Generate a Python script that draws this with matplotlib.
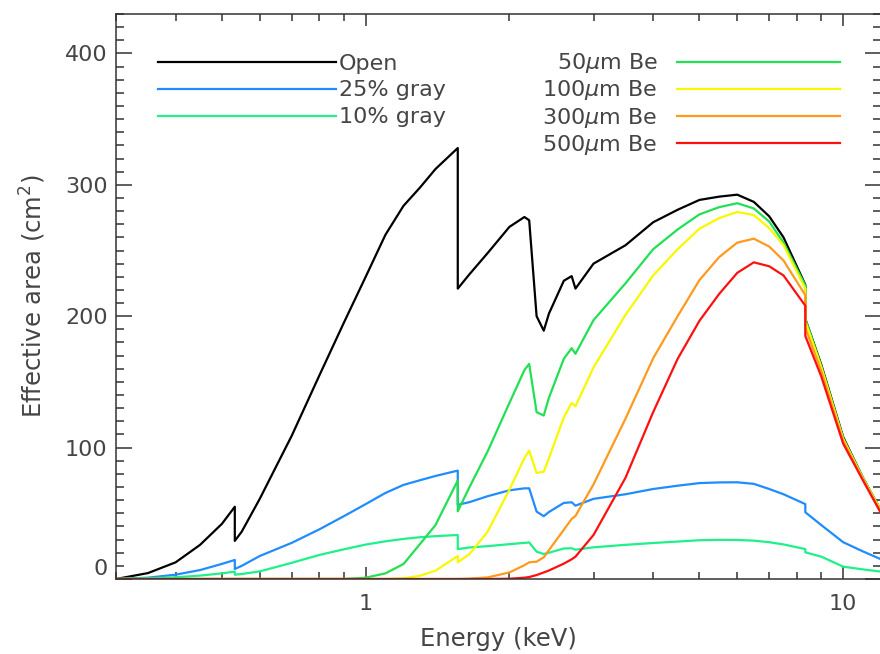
import matplotlib
matplotlib.use("Agg")
import matplotlib.pyplot as plt
from matplotlib.ticker import MultipleLocator, LogLocator, NullFormatter

# energy grid (keV); repeated entries are absorption edges (O-K, Al-K, Au-L)
energy = [0.30, 0.35, 0.40, 0.45, 0.50, 0.532, 0.532, 0.55, 0.60, 0.70,
          0.80, 0.90, 1.00, 1.10, 1.20, 1.30, 1.40, 1.559, 1.559, 1.65,
          1.80, 2.00, 2.15, 2.20, 2.28, 2.36, 2.42, 2.60, 2.70, 2.75,
          3.00, 3.50, 4.00, 4.50, 5.00, 5.50, 6.00, 6.50, 7.00, 7.50,
          8.33, 8.33, 9.00, 10.0, 11.0, 12.0]

# effective area (cm^2) per filter
open_area = [0, 4.5, 12.7, 26, 42, 55, 29, 36, 61, 109,
             155, 195, 230, 262, 284, 298, 312, 328, 221, 232,
             248, 268, 275.5, 273, 200, 189, 202, 227, 230.5, 221,
             240, 254, 271.5, 281, 288.5, 291, 292.5, 287, 276, 260,
             224, 198, 163, 108, 77, 52]
gray25_area = [0, 1, 3.3, 6.8, 11.5, 14.5, 7.6, 10, 17.5, 27.5,
               37.8, 47.8, 57, 65.5, 71.6, 75.2, 78.4, 82.5, 56.5, 58.5,
               63, 67.5, 69, 69, 51.3, 47.8, 51, 57.9, 58.4, 55.8,
               61, 64.5, 68.5, 71, 73, 73.5, 73.6, 72.4, 68.5, 64.5,
               57, 50.8, 41, 28, 21, 15]
gray10_area = [0, 0.5, 1.3, 2.6, 4.3, 5.6, 3.3, 3.8, 5.8, 12.3,
               18.3, 22.6, 26.2, 28.7, 30.5, 31.8, 32.6, 33.5, 22.8, 24,
               25, 26.5, 27.5, 27.8, 20.8, 19, 20, 23.2, 23.4, 22.3,
               24.1, 26, 27.4, 28.5, 29.5, 29.8, 29.7, 29.2, 28, 26.3,
               22.8, 20.3, 17, 9.4, 7.3, 5.6]
be50_area = [0, 0, 0, 0, 0, 0, 0, 0, 0, 0,
             0, 0, 1, 4.3, 11.4, 26.7, 41, 75, 51.5, 70,
             97, 134, 159, 163.7, 127, 124.4, 138, 167.6, 175.7, 171.4,
             197, 225, 251, 266, 277.5, 283, 286, 282, 272, 256,
             223.5, 198, 162, 107, 77, 52]
be100_area = [0, 0, 0, 0, 0, 0, 0, 0, 0, 0,
              0, 0, 0, 0, 0.5, 2.5, 6.3, 17.5, 12.7, 19,
              36, 68, 92, 97.7, 80.7, 81.7, 92, 123, 134, 131.5,
              161, 201, 231, 251, 266.6, 274.7, 279.3, 277, 267, 254,
              221, 196, 161, 106.5, 76.5, 52]
be300_area = [0, 0, 0, 0, 0, 0, 0, 0, 0, 0,
              0, 0, 0, 0, 0, 0, 0, 0, 0, 0.3,
              1.2, 5, 10.5, 12.7, 13.2, 16.5, 22, 37.5, 45.7, 48,
              72, 122, 168, 200, 227.5, 245, 256, 259, 253, 242.4,
              216, 191, 158, 105, 76, 51]
be500_area = [0, 0, 0, 0, 0, 0, 0, 0, 0, 0,
              0, 0, 0, 0, 0, 0, 0, 0, 0, 0,
              0, 0.2, 1, 1.5, 3, 5, 6.5, 11.7, 15, 17,
              33.5, 77, 127, 167.5, 196.5, 217, 233, 241, 238, 231,
              208, 185, 154, 103, 75, 50]

left_labels = ["Open", "25% gray", "10% gray"]
left_series = [open_area, gray25_area, gray10_area]
left_colors = ["#000000", "#1f8cff", "#1ef08a"]

right_labels = [r"50$\mu$m Be", r"100$\mu$m Be", r"300$\mu$m Be", r"500$\mu$m Be"]
right_series = [be50_area, be100_area, be300_area, be500_area]
right_colors = ["#22e054", "#f8f800", "#ff9a1e", "#ff1010"]

text_color = "#454545"
axis_color = "#333333"

plt.rcParams["font.family"] = ["DejaVu Sans"]
plt.rcParams["mathtext.fontset"] = "dejavusans"

fig = plt.figure(figsize=(8.8, 6.54), dpi=100)
ax = fig.add_axes([116 / 880, 75 / 654, 765 / 880, 565 / 654])

left_lines = []
for y, c in zip(left_series, left_colors):
    line, = ax.plot(energy, y, color=c, lw=1.6)
    left_lines.append(line)
right_lines = []
for y, c in zip(right_series, right_colors):
    line, = ax.plot(energy, y, color=c, lw=1.6)
    right_lines.append(line)

ax.set_xscale("log")
ax.set_xlim(0.3, 12)
ax.set_ylim(0, 430)
ax.set_xticks([1, 10], labels=["1", "10"])
ax.xaxis.set_minor_locator(LogLocator(base=10, subs=range(2, 10)))
ax.xaxis.set_minor_formatter(NullFormatter())
ax.set_yticks([0, 100, 200, 300, 400])
ax.yaxis.set_minor_locator(MultipleLocator(10))

for side in ax.spines.values():
    side.set_color(axis_color)
    side.set_linewidth(1.1)

ax.tick_params(which="both", direction="in", top=True, right=True,
               color=axis_color, width=1.1, labelcolor=text_color, labelsize=16)
ax.tick_params(axis="x", which="major", length=8.6, pad=11)
ax.tick_params(axis="x", which="minor", length=5)
ax.tick_params(axis="y", which="major", length=11.5, pad=6)
ax.tick_params(axis="y", which="minor", length=5.8)
ax.yaxis.get_major_ticks()[0].label1.set_verticalalignment("bottom")

ax.set_xlabel("Energy (keV)", fontsize=17.5, color=text_color, labelpad=9)
ax.set_ylabel("Effective area (cm$^2$)", fontsize=17.5, color=text_color, labelpad=12)

leg_left = ax.legend(left_lines, left_labels, loc="upper left",
                     bbox_to_anchor=(0.0549, 0.930), frameon=False,
                     fontsize=16, labelcolor=text_color, handlelength=8.0,
                     handletextpad=0.15, labelspacing=0.31, borderpad=0,
                     borderaxespad=0)
ax.add_artist(leg_left)
ax.legend(right_lines, right_labels, loc="upper right",
          bbox_to_anchor=(0.9464, 0.934), frameon=False, markerfirst=False,
          fontsize=16, labelcolor=text_color, handlelength=7.35,
          handletextpad=0.86, labelspacing=0.14, borderpad=0, borderaxespad=0)

fig.savefig("out.png", dpi=100)
